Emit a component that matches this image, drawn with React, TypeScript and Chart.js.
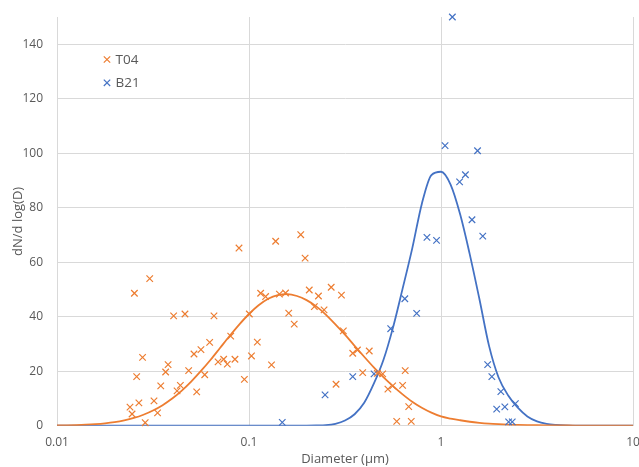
import React, { useEffect, useRef } from 'react';
import { Chart, registerables } from 'chart.js';

Chart.register(...registerables);

// Measured particles, sample T04
const t04D = [
  0.0253, 0.0304, 0.024, 0.0246, 0.026, 0.0279, 0.0267, 0.0288, 0.032, 0.0334,
  0.0347, 0.0368, 0.0379, 0.0405, 0.0422, 0.0439, 0.0464, 0.0485, 0.0517, 0.0534,
  0.0562, 0.0588, 0.0624, 0.0657, 0.069, 0.0738, 0.0771, 0.0803, 0.0845, 0.0887,
  0.0946, 0.1004, 0.103, 0.1105, 0.115, 0.122, 0.131, 0.1377, 0.144, 0.155,
  0.161, 0.172, 0.186, 0.196, 0.206, 0.219, 0.23, 0.268, 0.303, 0.246,
  0.31, 0.347, 0.367, 0.423, 0.284, 0.391, 0.466, 0.497, 0.529, 0.56,
  0.631, 0.651, 0.679, 0.588, 0.7,
];
const t04N = [
  48.6, 54.0, 6.8, 4.3, 18.0, 25.1, 8.4, 1.1, 9.1, 4.7,
  14.6, 19.7, 22.4, 40.3, 12.8, 14.8, 41.0, 20.2, 26.3, 12.4,
  27.9, 18.7, 30.6, 40.3, 23.4, 24.4, 22.6, 32.9, 24.4, 65.2,
  17.0, 41.0, 25.6, 30.7, 48.6, 47.4, 22.3, 67.7, 48.3, 48.7,
  41.3, 37.3, 70.1, 61.5, 49.8, 43.7, 47.6, 50.8, 47.9, 42.5,
  34.8, 26.6, 27.8, 27.4, 15.2, 19.5, 19.2, 19.0, 13.4, 14.6,
  14.8, 20.2, 7.0, 1.6, 1.6,
];

// Measured particles, sample B21
const b21D = [
  0.149, 0.249, 0.347, 0.448, 0.547, 0.648, 0.747, 0.845, 0.948, 1.05,
  1.146, 1.25, 1.34, 1.45, 1.55, 1.65, 1.75, 1.84, 1.95, 2.05,
  2.15, 2.25, 2.35, 2.44,
];
const b21N = [
  1.2, 11.3, 18.0, 19.0, 35.6, 46.6, 41.2, 69.1, 68.0, 102.8,
  150, 89.5, 92.1, 75.6, 100.9, 69.6, 22.4, 18.0, 6.1, 12.5,
  6.9, 1.4, 1.4, 8.1,
];

// Fitted curves
const fitD = [
  0.01, 0.01122, 0.01259, 0.01413, 0.01585, 0.01778, 0.01995, 0.02239, 0.02512, 0.02818,
  0.03162, 0.03548, 0.03981, 0.04467, 0.05012, 0.05623, 0.0631, 0.07079, 0.07943, 0.08913,
  0.1, 0.1122, 0.1259, 0.1413, 0.1585, 0.1778, 0.1995, 0.2239, 0.2512, 0.2818,
  0.3162, 0.3548, 0.3981, 0.4467, 0.5012, 0.5623, 0.631, 0.7079, 0.7943, 0.8913,
  1, 1.122, 1.259, 1.413, 1.585, 1.778, 1.995, 2.239, 2.512, 2.818,
  3.162, 3.548, 3.981, 4.467, 5.012, 5.623, 6.31, 7.079, 7.943, 8.913, 10,
];
const fitT04 = [
  0.08, 0.13, 0.22, 0.36, 0.57, 0.88, 1.33, 1.97, 2.84, 4.02,
  5.57, 7.54, 9.96, 12.9, 16.3, 20.1, 24.2, 28.6, 33.0, 37.2,
  41.0, 44.2, 46.6, 47.95, 48.3, 47.6, 46.1, 43.8, 40.8, 37.2,
  33.4, 29.3, 25.3, 21.4, 17.8, 14.5, 11.5, 8.8, 6.6, 4.8,
  3.4, 2.6, 2.0, 1.45, 1.05, 0.75, 0.55, 0.4, 0.3, 0.22,
  0.16, 0.12, 0.09, 0.07, 0.05, 0.04, 0.03, 0.02, 0.02, 0.01, 0.01,
];
const fitB21 = [
  0, 0, 0, 0, 0, 0, 0, 0, 0, 0,
  0, 0, 0, 0, 0, 0, 0, 0, 0, 0,
  0, 0, 0, 0, 0, 0, 0.04, 0.1, 0.2, 0.7,
  1.9, 4.2, 8.4, 15.4, 24.1, 36.0, 50.3, 65.0, 81.4, 92.0,
  93.2, 88.5, 77.5, 62.8, 46.5, 29.4, 17.7, 11.1, 6.6, 3.4,
  1.6, 0.7, 0.3, 0.1, 0.04, 0, 0, 0, 0, 0, 0,
];

const xTicks = [0.01, 0.1, 1, 10];
const yMax = 150;
const yTickMax = 140;

const ORANGE = '#ED7D31';
const BLUE = '#4472C4';
const TEXT = '#595959';
const GRID = '#D9D9D9';
const FONT = '"Open Sans", "Noto Sans", sans-serif';

const pairs = (xs: number[], ys: number[]) => xs.map((x, i) => ({ x, y: ys[i] }));

const insideLegend = {
  id: 'insideLegend',
  afterDraw(chart: any) {
    const ctx = chart.ctx as CanvasRenderingContext2D;
    const items = [0, 1].map((i) => ({
      label: chart.data.datasets[i].label,
      color: chart.data.datasets[i].borderColor,
    }));
    items.forEach((it, i) => {
      const cx = 107;
      const cy = 59.5 + i * 23.3;
      const r = 3.2;
      ctx.save();
      ctx.strokeStyle = it.color;
      ctx.lineWidth = 1.2;
      ctx.beginPath();
      ctx.moveTo(cx - r, cy - r);
      ctx.lineTo(cx + r, cy + r);
      ctx.moveTo(cx + r, cy - r);
      ctx.lineTo(cx - r, cy + r);
      ctx.stroke();
      ctx.fillStyle = TEXT;
      ctx.font = `13.5px ${FONT}`;
      ctx.textBaseline = 'middle';
      ctx.textAlign = 'left';
      ctx.fillText(it.label, 115.5, cy + 0.5);
      ctx.restore();
    });
  },
};

export default function App() {
  const ref = useRef<HTMLCanvasElement | null>(null);

  useEffect(() => {
    if (!ref.current) return;
    Chart.defaults.font.family = FONT;
    const chart = new Chart(ref.current, {
      type: 'scatter',
      data: {
        datasets: [
          {
            label: 'T04',
            data: pairs(t04D, t04N),
            showLine: false,
            pointStyle: 'crossRot',
            pointRadius: 4.6,
            pointBorderWidth: 1.2,
            borderColor: ORANGE,
            backgroundColor: ORANGE,
            clip: false,
          },
          {
            label: 'B21',
            data: pairs(b21D, b21N),
            showLine: false,
            pointStyle: 'crossRot',
            pointRadius: 4.6,
            pointBorderWidth: 1.2,
            borderColor: BLUE,
            backgroundColor: BLUE,
            clip: false,
          },
          {
            label: 'T04 fit',
            data: pairs(fitD, fitT04),
            showLine: true,
            pointRadius: 0,
            borderColor: ORANGE,
            borderWidth: 1.8,
            cubicInterpolationMode: 'monotone',
          },
          {
            label: 'B21 fit',
            data: pairs(fitD, fitB21),
            showLine: true,
            pointRadius: 0,
            borderColor: BLUE,
            borderWidth: 1.8,
            cubicInterpolationMode: 'monotone',
          },
        ],
      },
      options: {
        animation: false,
        responsive: false,
        layout: { padding: { top: 17, right: 6, left: 0, bottom: 0 } },
        plugins: {
          legend: { display: false },
          tooltip: { enabled: false },
        },
        scales: {
          x: {
            type: 'logarithmic',
            min: 0.01,
            max: 10,
            afterBuildTicks: (s: any) => {
              s.ticks = xTicks.map((v) => ({ value: v }));
            },
            afterFit: (s: any) => {
              s.height = 467 - 425.7;
              s.paddingLeft = 0;
              s.paddingRight = 0;
            },
            ticks: {
              color: TEXT,
              font: { size: 12 },
              padding: 9.5,
              maxRotation: 0,
              autoSkip: false,
              callback: (v: any) => String(v),
            },
            grid: { color: GRID, drawTicks: false, lineWidth: 1 },
            border: { color: GRID },
            title: {
              display: true,
              text: 'Diameter (µm)',
              color: TEXT,
              font: { size: 13 },
              padding: { top: 0, bottom: 0 },
            },
          },
          y: {
            type: 'linear',
            min: 0,
            max: yMax,
            afterBuildTicks: (s: any) => {
              s.ticks = s.ticks.filter((t: any) => t.value <= yTickMax);
            },
            afterFit: (s: any) => {
              s.width = 57;
              s.paddingTop = 0;
              s.paddingBottom = 0;
            },
            ticks: {
              stepSize: 20,
              color: TEXT,
              font: { size: 12 },
              padding: 14,
            },
            grid: { color: GRID, drawTicks: false, lineWidth: 1 },
            border: { color: GRID },
            title: {
              display: true,
              text: 'dN/d log(D)',
              color: TEXT,
              font: { size: 13 },
              padding: { top: 10.5, bottom: 0 },
            },
          },
        },
      },
      plugins: [insideLegend],
    } as any);
    return () => chart.destroy();
  }, []);

  return (
    <div style={{ position: 'absolute', left: 0, top: 0, width: 639, height: 467, background: '#fff' }}>
      <canvas ref={ref} width={639} height={467} style={{ display: 'block' }} />
    </div>
  );
}
